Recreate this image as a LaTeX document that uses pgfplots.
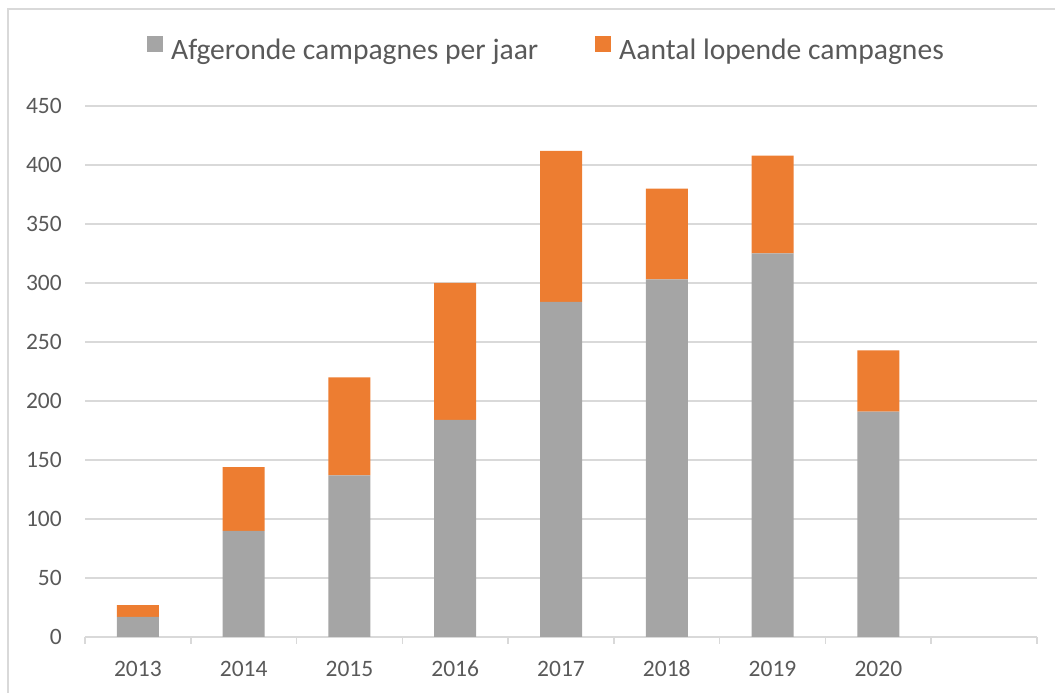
\documentclass[border=0pt]{standalone}
\usepackage{fontspec}
\setmainfont{Carlito}
\usepackage{pgfplots}
\pgfplotsset{compat=1.18}
\definecolor{cgray}{HTML}{A5A5A5}
\definecolor{corange}{HTML}{ED7D31}
\definecolor{cgrid}{HTML}{D9D9D9}
\definecolor{ctext}{HTML}{595959}
\begin{document}
\begin{tikzpicture}
\path[use as bounding box] (0,0) rectangle (1055pt,693pt);
\begin{axis}[
  at={(85pt,56pt)}, anchor=south west,
  scale only axis, width=952pt, height=531pt,
  xmin=-0.5, xmax=8.5, ymin=0, ymax=450,
  ybar stacked, bar width=42pt,
  axis x line*=bottom, axis y line*=left,
  x axis line style={draw=cgrid, line width=1.5pt},
  y axis line style={draw=none},
  xtick={0,...,7},
  xticklabels={2013,2014,2015,2016,2017,2018,2019,2020},
  minor xtick={-0.5,0.5,...,8.5},
  major tick length=0pt, minor tick length=7pt,
  xtick align=outside,
  minor x tick style={draw=cgrid, line width=1.5pt},
  ytick={0,50,...,450},
  ytick style={draw=none},
  ymajorgrids, grid style={draw=cgrid, line width=1.2pt},
  /pgf/number format/assume math mode=true,
  tick label style={font=\fontsize{23.5}{28}\selectfont, text=ctext, inner sep=0pt},
  yticklabel style={anchor=east, xshift=-23pt},
  xticklabel style={anchor=base, yshift=-40pt},
  legend columns=2,
  legend style={at={(0,1)}, anchor=west, xshift=62pt, yshift=57.5pt,
    draw=none, fill=none, inner sep=0pt,
    font=\fontsize{29.6}{34}\selectfont, text=ctext,
    nodes={inner sep=0pt},
    /tikz/every odd column/.append style={column sep=8pt},
    /tikz/every even column/.append style={column sep=57pt}},
  legend image code/.code={\fill[#1] (0pt,-1.5pt) rectangle (16pt,14.5pt);},
]
\addplot[fill=cgray, draw=none] coordinates {(0,17) (1,90) (2,137) (3,184) (4,284) (5,303) (6,325) (7,191)};
\addlegendentry{Afgeronde campagnes per jaar}
\addplot[fill=corange, draw=none] coordinates {(0,10) (1,54) (2,83) (3,116) (4,128) (5,77) (6,83) (7,52)};
\addlegendentry{Aantal lopende campagnes}
\end{axis}
\draw[cgrid, line width=1.2pt] (8pt,0pt) -- (8pt,684pt) -- (1055pt,684pt);
\end{tikzpicture}
\end{document}
